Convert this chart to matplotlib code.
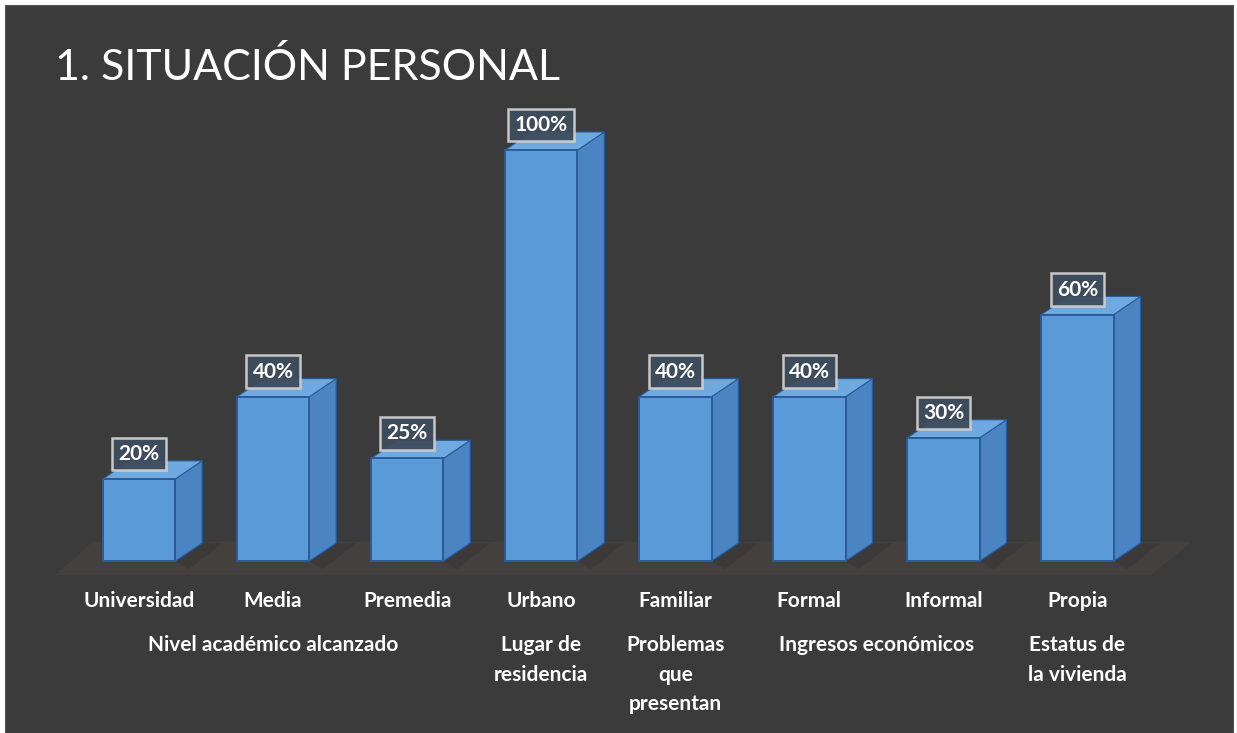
import numpy as np
import matplotlib
matplotlib.use('Agg')
import matplotlib.pyplot as plt
from matplotlib.patches import Polygon, Rectangle

# %% Data
categories = ['Universidad', 'Media', 'Premedia', 'Urbano',
              'Familiar', 'Formal', 'Informal', 'Propia']
values = [20, 40, 25, 100, 40, 40, 30, 60]
value_labels = ['20%', '40%', '25%', '100%', '40%', '40%', '30%', '60%']

# group captions: (text, first bar, last bar)
groups = [('Nivel académico alcanzado', 0, 2),
          ('Lugar de\nresidencia', 3, 3),
          ('Problemas\nque\npresentan', 4, 4),
          ('Ingresos económicos', 5, 6),
          ('Estatus de\nla vivienda', 7, 7)]

title = '1. SITUACIÓN PERSONAL'

# %% Style
plt.rcParams['font.family'] = ['Lato', 'DejaVu Sans']
bg = '#3b3b3b'
front_col = '#5a9ad8'
side_col = '#4a84c2'
top_col = '#6eaae0'
edge_col = '#2a5c9a'

W, H = 1237, 733
fig = plt.figure(figsize=(W / 100, H / 100), dpi=100, facecolor='white')

# dark panel with a thin white margin at top / left / right
fig.patches.append(Rectangle((5 / W, 0), 1228 / W, 728 / H, transform=fig.transFigure,
                             facecolor=bg, edgecolor='#555555', lw=0.8, zorder=0))

ax = fig.add_axes([5 / W, 0, 1228 / W, 728 / H])
ax.set_zorder(2)
ax.set_facecolor('none')
ax.set_xlim(-1.0, 8.16)
ax.set_ylim(-41.8, 135.3)
ax.axis('off')

x = np.arange(len(values))
bar_w = 0.54
dx, dy = 0.2, 4.4  # depth offset of the 3d bars

# floor under the bars
floor = Polygon([(-0.62, -3.4), (7.55, -3.4), (7.85, dy + 0.3), (-0.35, dy + 0.3)],
                closed=True, facecolor='#46413f', edgecolor='none', alpha=0.9, zorder=1)
ax.add_patch(floor)

bars = ax.bar(x, values, width=bar_w, color=front_col, edgecolor=edge_col,
              linewidth=1.4, zorder=4)

for rect in bars:
    x0 = rect.get_x()
    x1 = x0 + rect.get_width()
    h = rect.get_height()
    # side face
    ax.add_patch(Polygon([(x1, 0), (x1 + dx, dy), (x1 + dx, h + dy), (x1, h)],
                         closed=True, facecolor=side_col, edgecolor=edge_col,
                         lw=0.8, zorder=3))
    # top face
    ax.add_patch(Polygon([(x0, h), (x1, h), (x1 + dx, h + dy), (x0 + dx, h + dy)],
                         closed=True, facecolor=top_col, edgecolor=edge_col,
                         lw=0.8, zorder=3))
    # soft shadow on the floor
    ax.add_patch(Polygon([(x1, 0), (x1 + dx, dy), (x1 + dx + 0.15, dy), (x1 + 0.1, -2.0)],
                         closed=True, facecolor='#363434', edgecolor='none',
                         alpha=0.5, zorder=2))

# value labels in framed boxes
for xi, v, lab in zip(x, values, value_labels):
    ax.annotate(lab, (xi, v), xytext=(0, 18), textcoords='offset points',
                ha='center', va='center', color='white', fontsize=15,
                fontweight='bold', zorder=6,
                bbox=dict(boxstyle='square,pad=0.3', facecolor='#3f4c5d',
                          edgecolor='#cfcfcf', lw=1.8, alpha=0.95))

# category labels
for xi, cat in zip(x, categories):
    ax.text(xi, -9.6, cat, ha='center', va='center', color='white',
            fontsize=15, fontweight='bold')

# group captions
for text, i0, i1 in groups:
    ax.text((i0 + i1) / 2, -18.0, text, ha='center', va='top', color='white',
            fontsize=15, fontweight='bold', linespacing=1.6)

fig.text(55 / W, 1 - 80 / H, title, ha='left', va='baseline', color='white',
         fontsize=31, zorder=3)

fig.savefig('out.png', dpi=100, facecolor=fig.get_facecolor())
